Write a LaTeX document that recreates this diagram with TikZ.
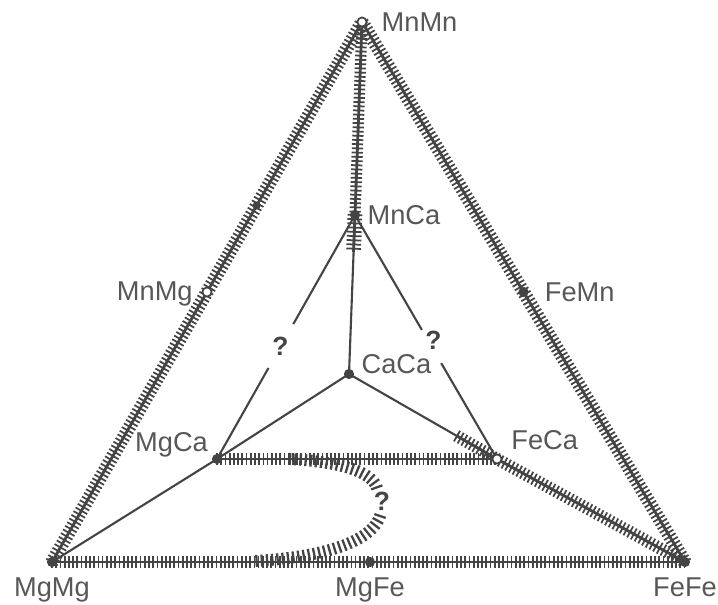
\documentclass[tikz,border=0pt]{standalone}
\usepackage{fontspec}
\setmainfont{Liberation Sans}
\usetikzlibrary{calc,positioning,decorations.pathreplacing}

\definecolor{ink}{HTML}{444444}

\tikzset{
  lbl/.style={text=ink!90, inner sep=1pt, font=\fontsize{15.5}{18}\selectfont},
  qmark/.style={text=ink, inner sep=0pt, font=\bfseries\fontsize{15}{17}\selectfont},
  tie/.style={draw=ink, line width=1.2pt},
  hatch/.style={draw=ink, line width=1.6pt,
    postaction={draw=ink, decorate, line width=1pt,
      decoration={ticks, segment length=2.4pt, amplitude=#1}}},
  hatch/.default=3.8pt,
  ticksonly/.style={draw=ink, line width=1.3pt, decorate,
    decoration={ticks, segment length=3pt, amplitude=3.4pt}},
  fdot/.style={fill=ink},
  odot/.style={fill=white, draw=ink, line width=1pt},
}

\begin{document}
\begin{tikzpicture}[x=0.02cm, y=-0.02cm]
  \useasboundingbox (0,0) rectangle (718,605);

  % Vertices
  \coordinate (MnMn) at (362,22);
  \coordinate (MgMg) at (52,562);
  \coordinate (FeFe) at (685,562);
  \coordinate (MnMg) at ($(MgMg)!0.5!(MnMn)$);
  \coordinate (FeMn) at ($(FeFe)!0.5!(MnMn)$);
  \coordinate (MgFe) at (370,562);
  \coordinate (MnCa) at (355,215);
  \coordinate (CaCa) at (349,374);
  \coordinate (MgCa) at (217,459);
  \coordinate (FeCa) at (497,459);
  \coordinate (side) at ($(MgMg)!0.66!(MnMn)$);

  % outer triangle
  \draw[hatch] (MgMg) -- (MnMn);
  \draw[hatch] (FeFe) -- (MnMn);
  \draw[hatch=3.2pt] (MgMg) -- (FeFe);

  % inner lines
  \draw[hatch=3.2pt] (MnMn) -- (MnCa);
  \draw[hatch=4.2pt] (MnCa) -- ($(MnMn)!0.653!(CaCa)$);
  \draw[tie] (MnCa) -- (CaCa);
  \draw[tie] (CaCa) -- (MgCa);
  \draw[tie] (CaCa) -- (FeCa);
  \draw[hatch=3.5pt] ($(CaCa)!0.73!(FeCa)$) -- (FeCa);
  \draw[tie] (MgMg) -- (MgCa);
  \draw[hatch=3.2pt] (MgCa) -- (FeCa);
  \draw[hatch=3.5pt] (FeCa) -- (FeFe);
  \draw[tie] (MnCa) -- ($(MnCa)!0.447!(MgCa)$);
  \draw[tie] ($(MnCa)!0.627!(MgCa)$) -- (MgCa);
  \draw[tie] (MnCa) -- ($(MnCa)!0.471!(FeCa)$);
  \draw[tie] ($(MnCa)!0.607!(FeCa)$) -- (FeCa);

  % loop of the miscibility gap
  \coordinate (gapA) at (290,459);
  \coordinate (gapB) at (377,488);
  \coordinate (gapC) at (380,516);
  \coordinate (gapD) at (255,561);
  \draw[ticksonly] (gapA) .. controls (342,462) and (372,472) .. (gapB);
  \draw[ticksonly] (gapC) .. controls (370,546) and (310,558) .. (gapD);

  % dots
  \foreach \p in {MgMg,FeFe,MgFe,FeMn,MnCa,CaCa,MgCa}
    \fill[fdot] (\p) circle (2.9pt);
  \fill[fdot] (side) circle (2.3pt);
  \foreach \p in {MnMn,MnMg,FeCa}
    \filldraw[odot] (\p) circle (2.6pt);

  % labels
  \node[lbl, right=10pt of MnMn] (tMnMn) {MnMn};
  \node[lbl, right=6pt of MnCa] (tMnCa) {MnCa};
  \node[lbl, above right=-1pt and 6pt of CaCa] (tCaCa) {CaCa};
  \node[lbl, above right=4pt and 7pt of FeCa] (tFeCa) {FeCa};
  \node[lbl, above left=0pt and 4pt of MgCa] (tMgCa) {MgCa};
  \node[lbl, left=7pt of MnMg, yshift=-1pt] (tMnMg) {MnMg};
  \node[lbl, right=11pt of FeMn] (tFeMn) {FeMn};
  \node[lbl, below=8pt of MgMg] (tMgMg) {MgMg};
  \node[lbl, below=8pt of MgFe] (tMgFe) {MgFe};
  \node[lbl, below=8pt of FeFe] (tFeFe) {FeFe};

  % question marks
  \node[qmark] (q1) at ($(MnCa)!0.54!(MgCa)$) {?};
  \node[qmark, xshift=3pt] (q2) at ($(MnCa)!0.515!(FeCa)$) {?};
  \node[qmark] (q3) at (382,501) {?};
\end{tikzpicture}
\end{document}
